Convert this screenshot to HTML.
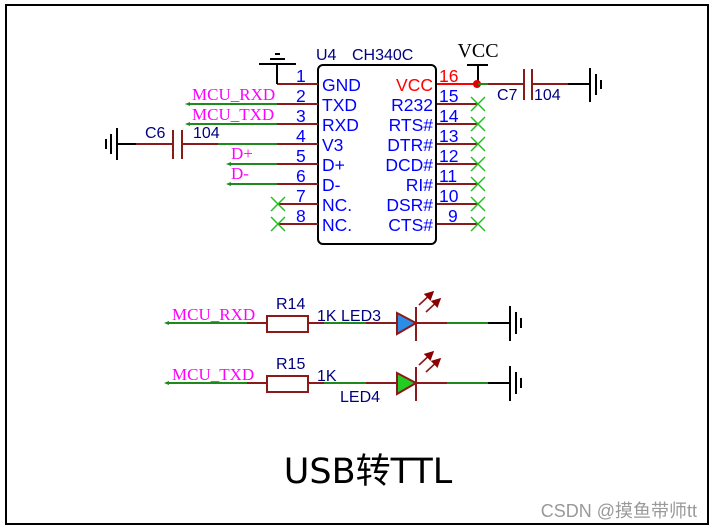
<!DOCTYPE html>
<html><head><meta charset="utf-8"><style>
html,body{margin:0;padding:0;background:#fff;width:712px;height:529px;overflow:hidden}
svg{display:block}
.s{font-family:"Liberation Sans",sans-serif;fill:#0000ff;font-size:17.5px}
.m{font-family:"Liberation Serif",serif;fill:#ff00ff;font-size:17px}
.d{font-family:"Liberation Sans",sans-serif;fill:#000080;font-size:16px}
</style></head><body>
<svg width="712" height="529" viewBox="0 0 712 529" xmlns="http://www.w3.org/2000/svg">
<rect x="6" y="5" width="702" height="519" fill="#fff" stroke="#000" stroke-width="2"/>
<defs>
<g id="x"><path d="M-7,-7L7,7M-7,7L7,-7" stroke="#22c022" stroke-width="1.5"/></g>
<marker id="ar" markerWidth="6" markerHeight="6" refX="5" refY="3" orient="auto"><path d="M0,0L6,3L0,6z" fill="#8b0000"/></marker>
</defs>
<rect x="318" y="65" width="118" height="179" rx="5" fill="#fff" stroke="#000" stroke-width="2"/>
<text x="316" y="60" class="d" font-size="17">U4</text>
<text x="352" y="60" class="d" font-size="17">CH340C</text>
<g stroke="#8b1a1a" stroke-width="2">
<line x1="277" y1="84" x2="318" y2="84"/><line x1="277" y1="104" x2="318" y2="104"/>
<line x1="277" y1="124" x2="318" y2="124"/><line x1="277" y1="144" x2="318" y2="144"/>
<line x1="277" y1="164" x2="318" y2="164"/><line x1="277" y1="184" x2="318" y2="184"/>
<line x1="277" y1="204" x2="318" y2="204"/><line x1="277" y1="224" x2="318" y2="224"/>
<line x1="437" y1="104" x2="478" y2="104"/><line x1="437" y1="124" x2="478" y2="124"/>
<line x1="437" y1="144" x2="478" y2="144"/><line x1="437" y1="164" x2="478" y2="164"/>
<line x1="437" y1="184" x2="478" y2="184"/><line x1="437" y1="204" x2="478" y2="204"/>
<line x1="437" y1="224" x2="478" y2="224"/>
</g>
<line x1="437" y1="84" x2="478" y2="84" stroke="#ff0000" stroke-width="2"/>
<g class="s">
<text x="296" y="82">1</text><text x="296" y="102">2</text><text x="296" y="122">3</text><text x="296" y="142">4</text>
<text x="296" y="162">5</text><text x="296" y="182">6</text><text x="296" y="202">7</text><text x="296" y="222">8</text>
<text x="322" y="91">GND</text><text x="322" y="111">TXD</text><text x="322" y="131">RXD</text><text x="322" y="151">V3</text>
<text x="322" y="171">D+</text><text x="322" y="191">D-</text><text x="322" y="211">NC.</text><text x="322" y="231">NC.</text>
<g text-anchor="end">
<text x="433" y="111">R232</text><text x="433" y="131">RTS#</text><text x="433" y="151">DTR#</text>
<text x="433" y="171">DCD#</text><text x="433" y="191">RI#</text><text x="433" y="211">DSR#</text><text x="433" y="231">CTS#</text>
</g>
<text x="439" y="102">15</text><text x="439" y="122">14</text><text x="439" y="142">13</text><text x="439" y="162">12</text>
<text x="439" y="182">11</text><text x="439" y="202">10</text><text x="448" y="222">9</text>
</g>
<text x="433" y="91" class="s" style="fill:#ff0000" text-anchor="end">VCC</text>
<text x="439" y="82" class="s" style="fill:#ff0000">16</text>
<use href="#x" x="278" y="204"/><use href="#x" x="278" y="224"/>
<use href="#x" x="478" y="104"/><use href="#x" x="478" y="124"/><use href="#x" x="478" y="144"/>
<use href="#x" x="478" y="164"/><use href="#x" x="478" y="184"/><use href="#x" x="478" y="204"/><use href="#x" x="478" y="224"/>
<path d="M277,84V64" stroke="#000" stroke-width="2" fill="none"/>
<g stroke="#000" stroke-width="2"><line x1="259" y1="64" x2="296" y2="64"/><line x1="270" y1="59" x2="285" y2="59"/><line x1="275" y1="54" x2="280" y2="54"/></g>
<g stroke="#1e8a1e" stroke-width="2">
<line x1="188" y1="104" x2="277" y2="104"/><line x1="188" y1="124" x2="277" y2="124"/>
<line x1="229" y1="164" x2="277" y2="164"/><line x1="229" y1="184" x2="277" y2="184"/>
<line x1="218" y1="144" x2="277" y2="144"/>
</g>
<g fill="#1e8a1e"><path d="M185,104l5,-2v4z"/><path d="M185,124l5,-2v4z"/><path d="M226,164l5,-2v4z"/><path d="M226,184l5,-2v4z"/></g>
<text x="192" y="100" class="m">MCU_RXD</text><text x="192" y="120" class="m">MCU_TXD</text>
<text x="231" y="159" class="m">D+</text><text x="231" y="179" class="m">D-</text>
<g stroke="#8b1a1a" stroke-width="2"><line x1="136" y1="144" x2="173" y2="144"/><line x1="182" y1="144" x2="218" y2="144"/>
<line x1="173" y1="130" x2="173" y2="159"/><line x1="182" y1="130" x2="182" y2="159"/></g>
<g stroke="#000" stroke-width="2"><line x1="117" y1="144" x2="136" y2="144"/><line x1="117" y1="128" x2="117" y2="160"/>
<line x1="111" y1="134" x2="111" y2="154"/><line x1="106" y1="139" x2="106" y2="149"/></g>
<text x="145" y="138" class="d" font-size="17">C6</text><text x="193" y="138" class="d" font-size="17">104</text>
<line x1="478" y1="84" x2="478" y2="65" stroke="#000" stroke-width="2"/>
<line x1="467" y1="65" x2="488" y2="65" stroke="#000" stroke-width="2"/>
<text x="478" y="57" text-anchor="middle" font-family="Liberation Serif,serif" font-size="20" fill="#000">VCC</text>
<circle cx="477" cy="84" r="4" fill="#e00000"/>
<line x1="478" y1="84" x2="488" y2="84" stroke="#1e8a1e" stroke-width="2"/>
<g stroke="#8b1a1a" stroke-width="2"><line x1="488" y1="84" x2="524" y2="84"/><line x1="532" y1="84" x2="568" y2="84"/>
<line x1="524" y1="69" x2="524" y2="100"/><line x1="532" y1="69" x2="532" y2="100"/></g>
<g stroke="#000" stroke-width="2"><line x1="568" y1="84" x2="590" y2="84"/><line x1="590" y1="68" x2="590" y2="102"/>
<line x1="596" y1="74" x2="596" y2="95"/><line x1="601" y1="80" x2="601" y2="89"/></g>
<text x="497" y="100" class="d" font-size="17">C7</text><text x="534" y="100" class="d" font-size="17">104</text>
<g id="row">
<line x1="166" y1="323" x2="247" y2="323" stroke="#1e8a1e" stroke-width="2"/>
<path d="M164,323l5,-2v4z" fill="#1e8a1e"/>
<line x1="247" y1="323" x2="267" y2="323" stroke="#8b1a1a" stroke-width="2"/>
<rect x="267" y="316" width="41" height="16" fill="#fff" stroke="#8b1a1a" stroke-width="2"/>
<line x1="308" y1="323" x2="324" y2="323" stroke="#8b1a1a" stroke-width="2"/>
<line x1="324" y1="323" x2="366" y2="323" stroke="#1e8a1e" stroke-width="2"/>
<line x1="366" y1="323" x2="397" y2="323" stroke="#8b1a1a" stroke-width="2"/>
<line x1="416" y1="307" x2="416" y2="341" stroke="#8b1a1a" stroke-width="2"/>
<line x1="416" y1="323" x2="447" y2="323" stroke="#8b1a1a" stroke-width="2"/>
<line x1="447" y1="323" x2="488" y2="323" stroke="#1e8a1e" stroke-width="2"/>
<g stroke="#000" stroke-width="2"><line x1="488" y1="323" x2="510" y2="323"/><line x1="510" y1="306" x2="510" y2="341"/>
<line x1="516" y1="312" x2="516" y2="334"/><line x1="521" y1="318" x2="521" y2="328"/></g>
<g stroke="#8b1a1a" stroke-width="1.6"><line x1="419" y1="305" x2="433" y2="292" marker-end="url(#ar)"/><line x1="426" y1="312" x2="440" y2="299" marker-end="url(#ar)"/></g>
</g>
<path d="M397,313L416,323L397,334z" fill="#2a8ee8" stroke="#8b1a1a" stroke-width="2"/>
<use href="#row" y="60"/>
<path d="M397,373L416,383L397,394z" fill="#22cc22" stroke="#8b1a1a" stroke-width="2"/>
<text x="172" y="320" class="m" font-size="18">MCU_RXD</text><text x="172" y="380" class="m" font-size="18">MCU_TXD</text>
<text x="276" y="309" class="d" font-size="18">R14</text><text x="276" y="369" class="d" font-size="18">R15</text>
<text x="317" y="321" class="d" font-size="18">1K LED3</text><text x="317" y="381" class="d" font-size="18">1K</text>
<text x="340" y="402" class="d" font-size="18">LED4</text>
<text x="368" y="483" text-anchor="middle" font-family="DejaVu Sans,'Noto Sans CJK SC',sans-serif" font-size="35" fill="#000">USB转TTL</text>
<text x="697" y="517" text-anchor="end" font-family="'Liberation Sans','Noto Sans CJK SC',sans-serif" font-size="18" fill="#999">CSDN @摸鱼带师tt</text>
</svg>
</body></html>
